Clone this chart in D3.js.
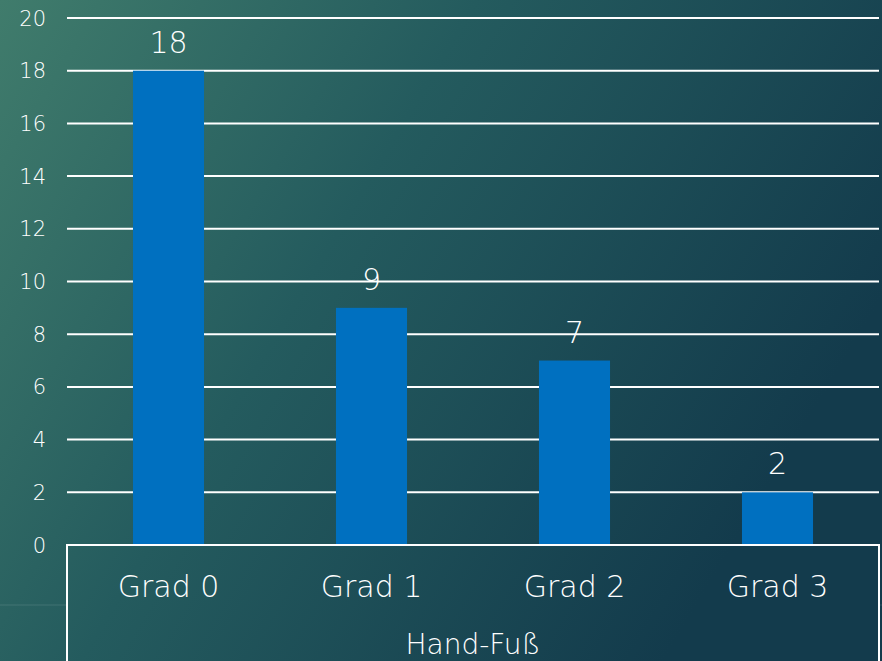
<!DOCTYPE html>
<html>
<head>
<meta charset="utf-8">
<script src="https://cdn.jsdelivr.net/npm/d3@7"></script>
<style>
  body { margin: 0; overflow: hidden; }
  text { font-family: "DejaVu Sans", sans-serif; fill: #ffffff; font-weight: 200; }
</style>
</head>
<body>
<div id="chartDiv"></div>
<script>
// data
var categories = ['Grad 0', 'Grad 1', 'Grad 2', 'Grad 3'];
var counts = [18, 9, 7, 2];
var yTicks = [0, 2, 4, 6, 8, 10, 12, 14, 16, 18, 20];
var groupLabel = 'Hand-Fuß';

function drawChart() {
  var width = 882;
  var height = 661;
  var left = 67, right = 879, top = 18, bottom = 545;

  var svg = d3.select('#chartDiv').append('svg')
    .attr('width', width).attr('height', height);

  // background gradient
  var defs = svg.append('defs');
  var bg = defs.append('linearGradient')
    .attr('id', 'bg')
    .attr('x1', 0).attr('y1', 0).attr('x2', 1).attr('y2', 0.45);
  bg.selectAll('stop')
    .data([['0%', '#407c6c'], ['45%', '#245b5e'], ['100%', '#133b4c']])
    .enter().append('stop')
    .attr('offset', function(d) { return d[0]; })
    .attr('stop-color', function(d) { return d[1]; });

  svg.append('rect').attr('width', width).attr('height', height).attr('fill', 'url(#bg)');

  var x = d3.scaleBand()
    .domain(categories)
    .range([left, right])
    .paddingInner(0.65)
    .paddingOuter(0.325);

  var y = d3.scaleLinear().domain([0, 20]).range([bottom, top]);

  // gridlines
  svg.append('g').selectAll('line')
    .data(yTicks.filter(function(d) { return d > 0; }))
    .enter().append('line')
    .attr('x1', left).attr('x2', right)
    .attr('y1', function(d) { return y(d); })
    .attr('y2', function(d) { return y(d); })
    .attr('stroke', '#ffffff').attr('stroke-width', 2);

  // y tick labels
  svg.append('g').selectAll('text')
    .data(yTicks)
    .enter().append('text')
    .attr('x', 46)
    .attr('y', function(d) { return y(d); })
    .attr('dy', '0.36em')
    .attr('text-anchor', 'end')
    .style('font-size', '21px')
    .text(function(d) { return d; });

  // bars
  svg.append('g').selectAll('rect')
    .data(counts)
    .enter().append('rect')
    .attr('x', function(d, i) { return x(categories[i]); })
    .attr('width', x.bandwidth())
    .attr('y', function(d) { return y(d); })
    .attr('height', function(d) { return y(0) - y(d); })
    .attr('fill', '#0070c0');

  // value labels
  svg.append('g').selectAll('text')
    .data(counts)
    .enter().append('text')
    .attr('x', function(d, i) { return x(categories[i]) + x.bandwidth() / 2; })
    .attr('y', function(d) { return y(d) - 18; })
    .attr('text-anchor', 'middle')
    .style('font-size', '30px')
    .text(function(d) { return d; });

  // x axis table frame
  var frame = svg.append('g').attr('stroke', '#ffffff').attr('stroke-width', 2).attr('fill', 'none');
  frame.append('line').attr('x1', left - 1).attr('x2', right + 1).attr('y1', bottom).attr('y2', bottom);
  frame.append('line').attr('x1', left).attr('x2', left).attr('y1', bottom).attr('y2', height);
  frame.append('line').attr('x1', right).attr('x2', right).attr('y1', bottom).attr('y2', height);

  // faint separator stubs outside the frame
  svg.append('line').attr('x1', 0).attr('x2', left).attr('y1', 605).attr('y2', 605)
    .attr('stroke', '#ffffff').attr('stroke-opacity', 0.12);
  svg.append('line').attr('x1', right).attr('x2', width).attr('y1', 605).attr('y2', 605)
    .attr('stroke', '#ffffff').attr('stroke-opacity', 0.12);

  // category labels
  svg.append('g').selectAll('text')
    .data(categories)
    .enter().append('text')
    .attr('x', function(d) { return x(d) + x.bandwidth() / 2; })
    .attr('y', 597)
    .attr('text-anchor', 'middle')
    .style('font-size', '30px')
    .text(function(d) { return d; });

  svg.append('text')
    .attr('x', (left + right) / 2)
    .attr('y', 654)
    .attr('text-anchor', 'middle')
    .style('font-size', '28px')
    .text(groupLabel);
}

drawChart();
</script>
</body>
</html>
